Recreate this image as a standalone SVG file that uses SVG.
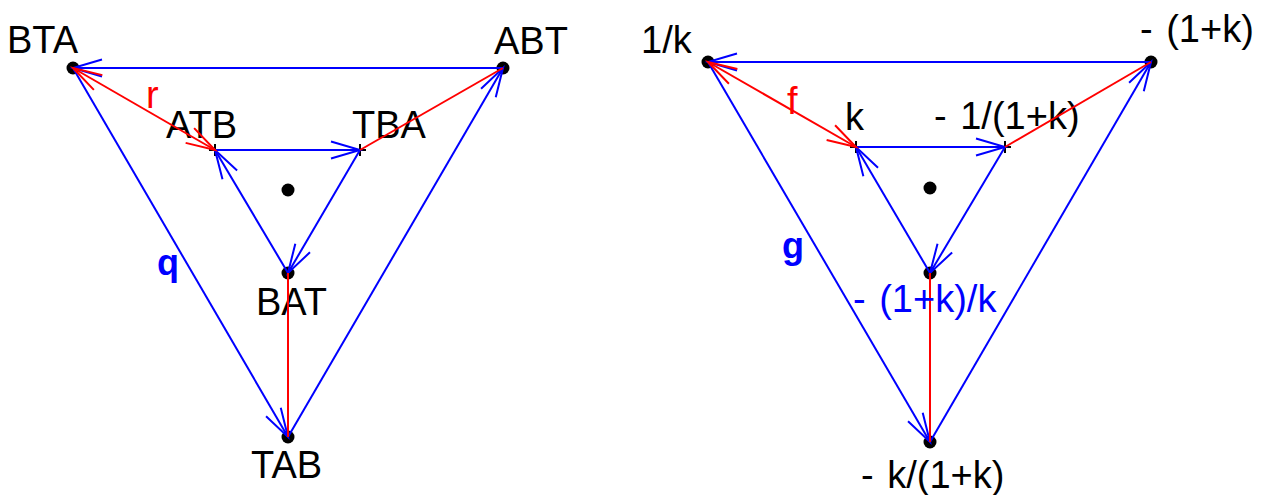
<svg xmlns="http://www.w3.org/2000/svg" width="1269" height="495" viewBox="0 0 1269 495">
<style>
.bl{stroke:#0000ff;stroke-width:2;fill:none;marker-end:url(#ab)}
.rd{stroke:#ff0000;stroke-width:2;fill:none}
.rdA{marker-end:url(#ar)}
.rdAA{marker-start:url(#ar);marker-end:url(#ar)}
.dot{fill:#000}
.cr{stroke:#000;stroke-width:2}
text{font-family:"Liberation Sans",Arial,sans-serif;font-size:38px;fill:#000}
.red{fill:#ff0000}
.blt{fill:#0000ff}
.bold{font-weight:bold;font-size:36px}
</style>
<defs>
<marker id="ab" markerUnits="userSpaceOnUse" markerWidth="40" markerHeight="40" refX="0" refY="0" viewBox="-35 -20 40 40" orient="auto-start-reverse" overflow="visible">
<path d="M-29,-8.5 L0,0 L-29,8.5" fill="none" stroke="#0000ff" stroke-width="2"/>
</marker>
<marker id="ar" markerUnits="userSpaceOnUse" markerWidth="40" markerHeight="40" refX="0" refY="0" viewBox="-35 -20 40 40" orient="auto-start-reverse" overflow="visible">
<path d="M-29,-8.5 L0,0 L-29,8.5" fill="none" stroke="#ff0000" stroke-width="2"/>
</marker>
</defs>
<rect width="1269" height="495" fill="#fff"/>

<!-- Left diagram nodes -->
<g id="BTA"><circle class="dot" cx="73" cy="68" r="6.5"/><text x="7" y="53">BTA</text></g>
<g id="ABT"><circle class="dot" cx="503" cy="68" r="6.5"/><text x="494" y="54">ABT</text></g>
<g id="TAB"><circle class="dot" cx="288" cy="437" r="6.5"/><text x="251" y="478">TAB</text></g>
<g id="ATB"><path class="cr" d="M209,150 H221 M215,144 V156"/><text x="166" y="138">ATB</text></g>
<g id="TBA"><path class="cr" d="M354,150 H366 M360,144 V156"/><text x="352" y="138">TBA</text></g>
<g id="BAT"><circle class="dot" cx="288" cy="273" r="6.5"/><text x="256" y="315">BAT</text></g>
<g id="centerL"><circle class="dot" cx="288" cy="190" r="6.5"/></g>

<!-- Right diagram nodes -->
<g id="N1k"><circle class="dot" cx="708" cy="62" r="6.5"/><text x="641" y="53">1/k</text></g>
<g id="Nm1k"><circle class="dot" cx="1151" cy="62" r="6.5"/><text x="1140" y="42">- <tspan dx="3">(1+k)</tspan></text></g>
<g id="Nbot"><circle class="dot" cx="930" cy="442" r="6.5"/><text x="861" y="488">- <tspan dx="3">k/(1+k)</tspan></text></g>
<g id="Nk"><path class="cr" d="M850,147 H862 M856,141 V153"/><text x="845" y="130">k</text></g>
<g id="Ninv"><path class="cr" d="M999,147 H1011 M1005,141 V153"/><text x="934" y="129">- <tspan dx="3">1/(1+k)</tspan></text></g>
<g id="Nmid"><circle class="dot" cx="930" cy="273" r="6.5"/></g>
<g id="centerR"><circle class="dot" cx="930" cy="188" r="6.5"/></g>

<!-- Connectors -->
<g id="connectors">
<line class="bl" x1="503" y1="68" x2="73" y2="68"/>
<line class="bl" x1="73" y1="68" x2="288" y2="437"/>
<line class="bl" x1="288" y1="437" x2="503" y2="68"/>
<line class="bl" x1="215" y1="150" x2="360" y2="150"/>
<line class="bl" x1="360" y1="150" x2="288" y2="273"/>
<line class="bl" x1="288" y1="273" x2="215" y2="150"/>
<line class="rd rdAA" x1="73" y1="68" x2="215" y2="150"/>
<line class="rd" x1="360" y1="150" x2="503" y2="68"/>
<line class="rd" x1="288" y1="273" x2="288" y2="437"/>

<line class="bl" x1="1151" y1="62" x2="708" y2="62"/>
<line class="bl" x1="708" y1="62" x2="930" y2="442"/>
<line class="bl" x1="930" y1="442" x2="1151" y2="62"/>
<line class="bl" x1="856" y1="147" x2="1005" y2="147"/>
<line class="bl" x1="1005" y1="147" x2="930" y2="273"/>
<line class="bl" x1="930" y1="273" x2="856" y2="147"/>
<line class="rd rdAA" x1="708" y1="62" x2="856" y2="147"/>
<line class="rd" x1="1005" y1="147" x2="1151" y2="62"/>
<line class="rd" x1="930" y1="273" x2="930" y2="442"/>
</g>

<!-- Edge labels -->
<g id="labels">
<text class="red" x="146" y="108">r</text>
<text class="blt bold" x="157" y="275">q</text>
<text class="red" x="787" y="114">f</text>
<text class="blt bold" x="782" y="258">g</text>
<text class="blt" x="853" y="312">- <tspan dx="3">(1+k)/k</tspan></text>
</g>
</svg>
